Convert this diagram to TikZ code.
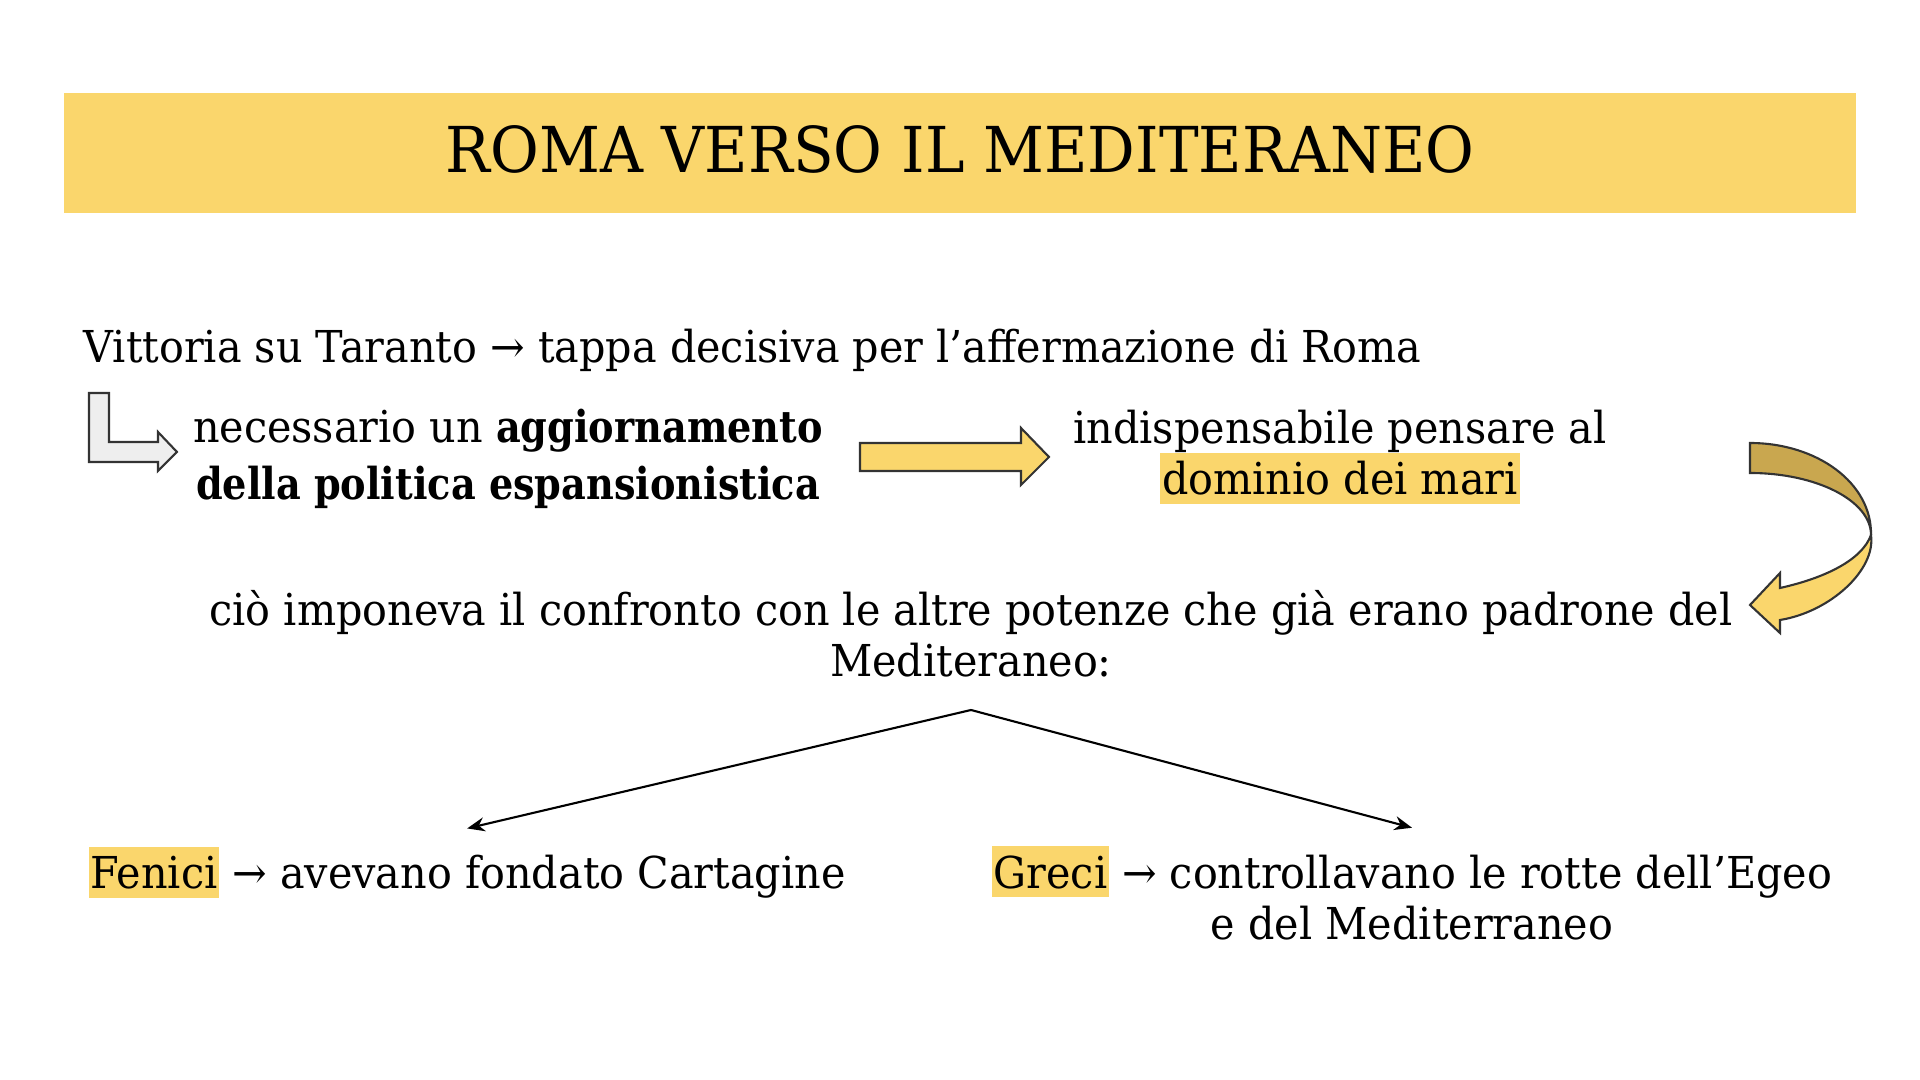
\documentclass[tikz,border=0pt]{standalone}
\usepackage{fontspec}
\setmainfont{DejaVu Serif}[FakeStretch=0.94]
\newfontfamily\boldserif{DejaVu Serif Bold}[FakeStretch=0.87]
\usetikzlibrary{arrows.meta}
\definecolor{hlyellow}{HTML}{FAD66C}
\definecolor{ribbondark}{HTML}{C9A74F}
\definecolor{bendgray}{HTML}{EEEEEE}
\newcommand{\hlmark}[1]{{\setlength{\fboxsep}{0pt}\colorbox{hlyellow}{\rule[-2.6pt]{0pt}{14.5pt}\hspace{0.5pt}#1\hspace{0.5pt}}}}
\newcommand{\boldtext}[1]{{\boldserif #1}}

\begin{document}
\begin{tikzpicture}[x=0.01cm, y=-0.01cm,
  bodytext/.style={inner sep=0pt, font=\fontsize{12.5pt}{14.7pt}\selectfont},
  titlebar/.style={fill=hlyellow, minimum width=17.9cm, minimum height=1.2cm, text depth=2.3pt, font=\fontsize{18pt}{22pt}\selectfont},
  splitline/.style={line width=0.6pt, -{Stealth[length=5pt, width=4pt]}},
  shapeline/.style={draw=black!80, line width=0.6pt}]
\useasboundingbox (0,0) rectangle (1920,1080);
\node[titlebar] (title) at (960,153) {ROMA VERSO IL MEDITERANEO};

\node[bodytext, anchor=base west] (vittoria) at (83,363) {Vittoria su Taranto → tappa decisiva per l’affermazione di Roma};
\draw[shapeline, fill=bendgray] (89,393) -- (109,393) -- (109,442) -- (158,442) -- (158,432) -- (177,452) -- (158,471) -- (158,462) -- (89,462) -- cycle;
\node[bodytext, align=center, anchor=base] (espansione) at (508,500) {necessario un \boldtext{aggiornamento}\\[1.7pt]\boldtext{della politica espansionistica}};

% freccia gialla
\draw[shapeline, fill=hlyellow] (860,443) -- (1021,443) -- (1021,428) -- (1049,457) -- (1021,485) -- (1021,471) -- (860,471) -- cycle;
\node[bodytext, align=center, anchor=base] (dominio) at (1340,495) {indispensabile pensare al\\\hlmark{dominio dei mari}};

% freccia curva
\draw[shapeline, fill=ribbondark] (1750,443) .. controls (1817,443) and (1872,483) .. (1871,535) .. controls (1871,501) and (1817,473) .. (1750,473) -- cycle;
\draw[shapeline, fill=hlyellow] (1871,535) .. controls (1876,570) and (1830,612) .. (1780,620) -- (1780,633) -- (1750,605) -- (1780,573) -- (1780,588) .. controls (1825,578) and (1862,560) .. (1871,535) -- cycle;

\node[bodytext, align=center, anchor=base] (confronto) at (971,677) {ciò imponeva il confronto con le altre potenze che già erano padrone del\\Mediteraneo:};
\coordinate (split) at (971,710);

\node[bodytext, anchor=base west] (fenici) at (88,889) {\hlmark{Fenici} → avevano fondato Cartagine};
\node[bodytext, align=center, anchor=base] (greci) at (1412,940) {\hlmark{Greci} → controllavano le rotte dell’Egeo\\e del Mediterraneo};
\draw[splitline] (split) -- ([yshift=0.18cm]fenici.north);
\draw[splitline] (split) -- ([yshift=0.18cm]greci.north);
\end{tikzpicture}
\end{document}
